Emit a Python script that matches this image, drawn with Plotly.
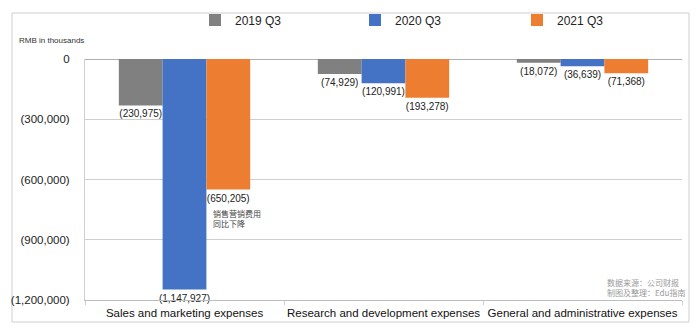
import plotly.graph_objects as go

categories = ["Sales and marketing expenses", "Research and development expenses", "General and administrative expenses"]
series_names = ["2019 Q3", "2020 Q3", "2021 Q3"]
values_2019 = [-230975, -74929, -18072]
values_2020 = [-1147927, -120991, -36639]
values_2021 = [-650205, -193278, -71368]
colors = ["#808080", "#4472c4", "#ed7d31"]
tick_vals = [0, -300000, -600000, -900000, -1200000]


def fmt(v):
    if v == 0:
        return "0"
    s = f"{abs(v):,}"
    return f"({s})" if v < 0 else s


tick_text = [fmt(v) for v in tick_vals]

W, H = 700, 331
ML, MR, MT, MB = 85, 18, 59, 31
PW = W - ML - MR
PH = H - MT - MB


def px(x):
    return (x - ML) / PW


def py(y):
    return (H - MB - y) / PH


legend_ids = ["legend", "legend2", "legend3"]
legend_left_px = [195, 355, 517]

fig = go.Figure()
for name, vals, col, lid in zip(series_names, [values_2019, values_2020, values_2021], colors, legend_ids):
    fig.add_trace(go.Bar(
        x=categories, y=vals, name=name, legend=lid,
        marker=dict(color=col, line=dict(width=0)),
        text=[fmt(v) for v in vals], textposition="outside", constraintext="none",
        textfont=dict(size=10, color="#222222", family="Liberation Sans"),
        cliponaxis=False,
    ))

legend_common = dict(orientation="h", yanchor="middle", xanchor="left",
                     font=dict(size=12, color="#222222"), itemclick=False,
                     bgcolor="rgba(0,0,0,0)")

fig.update_layout(
    width=W, height=H,
    margin=dict(l=ML, r=MR, t=MT, b=MB, autoexpand=False),
    paper_bgcolor="white", plot_bgcolor="white",
    barmode="group", bargap=0.34, bargroupgap=0,
    font=dict(family="Liberation Sans", color="#222222"),
    showlegend=True,
    legend=dict(x=px(legend_left_px[0]), y=py(20), **legend_common),
    legend2=dict(x=px(legend_left_px[1]), y=py(20), **legend_common),
    legend3=dict(x=px(legend_left_px[2]), y=py(20), **legend_common),
)
fig.update_yaxes(range=[-1200000, 0], tickvals=tick_vals, ticktext=tick_text,
                 showgrid=True, gridcolor="#cfcfcf", gridwidth=1,
                 zeroline=True, zerolinecolor="#b0b0b0", zerolinewidth=1,
                 showline=True, linecolor="#cfcfcf", linewidth=1,
                 ticks="", ticklabelstandoff=12, automargin=False,
                 tickfont=dict(size=11.5, color="#222222"))
fig.update_xaxes(showline=True, linecolor="#bdbdbd", linewidth=1, mirror=False,
                 tickson="boundaries", ticks="outside", ticklen=4, tickcolor="#cfcfcf",
                 tickangle=0, automargin=False,
                 tickfont=dict(size=11.5, color="#111111"), ticklabelstandoff=2)

# outer frame
fig.add_shape(type="rect", xref="paper", yref="paper",
              x0=px(12), x1=px(689), y0=py(322), y1=py(13),
              line=dict(color="#cfcfcf", width=1), fillcolor="rgba(0,0,0,0)", layer="below")

fig.add_annotation(xref="paper", yref="paper", x=px(17), y=py(40), xanchor="left", yanchor="middle",
                   text="RMB in thousands", showarrow=False,
                   font=dict(size=8, color="#333333"))
fig.add_annotation(xref="paper", yref="paper", x=px(211), y=py(218), xanchor="left", yanchor="middle",
                   text="销售营销费用<br>同比下降", showarrow=False, align="left",
                   font=dict(size=8, color="#444444", family="Noto Sans CJK SC"))
fig.add_annotation(xref="paper", yref="paper", x=px(687), y=py(287), xanchor="right", yanchor="middle",
                   text="数据来源：公司财报<br>制图及整理：Edu指南", showarrow=False, align="left",
                   font=dict(size=8, color="#9a9a9a", family="Noto Sans CJK SC"))

fig.write_html("out.html")
